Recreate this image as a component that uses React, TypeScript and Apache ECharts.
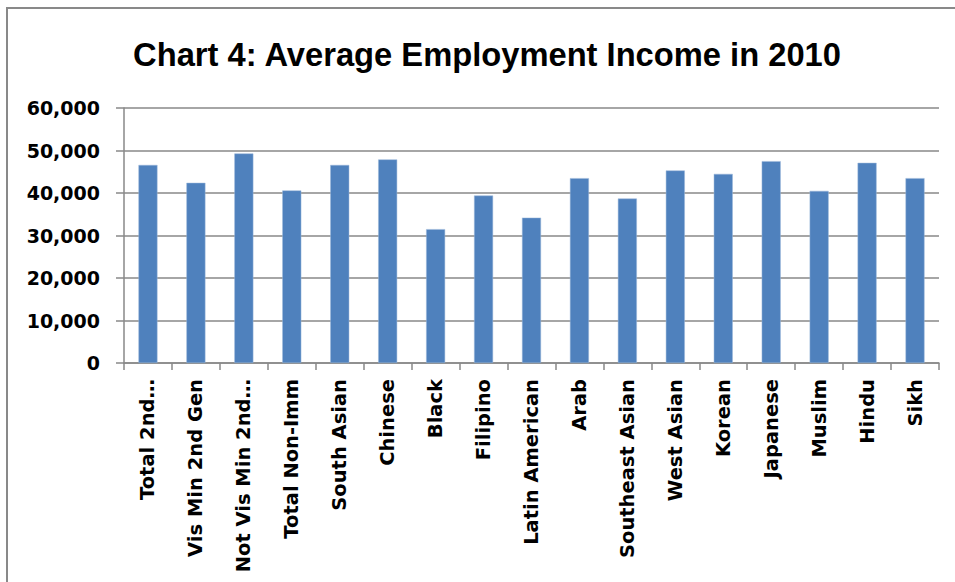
import React, { useEffect, useRef } from "react";
import * as echarts from "echarts";

const titleText = "Chart 4: Average Employment Income in 2010";
const categories = [
  "Total 2nd…",
  "Vis Min 2nd Gen",
  "Not Vis Min 2nd…",
  "Total Non-Imm",
  "South Asian",
  "Chinese",
  "Black",
  "Filipino",
  "Latin American",
  "Arab",
  "Southeast Asian",
  "West Asian",
  "Korean",
  "Japanese",
  "Muslim",
  "Hindu",
  "Sikh",
];
const incomes = [
  46600, 42400, 49300, 40600, 46600, 47900, 31500, 39400, 34200, 43500, 38700,
  45300, 44500, 47500, 40500, 47100, 43500,
];
const yMin = 0;
const yMax = 60000;
const yStep = 10000;

export default function App() {
  const ref = useRef<HTMLDivElement>(null);
  useEffect(() => {
    if (!ref.current) return;
    const chart = echarts.init(ref.current, null, { renderer: "svg" });
    const gray = "#898989";
    chart.setOption({
      animation: false,
      backgroundColor: "#ffffff",
      title: {
        text: titleText,
        left: 482,
        top: 33,
        textAlign: "center",
        textStyle: {
          fontFamily: "Liberation Sans",
          fontWeight: "bold",
          fontSize: 32.7,
          color: "#000000",
        },
      },
      graphic: [
        {
          type: "rect",
          shape: { x: 7, y: 8, width: 970, height: 600 },
          style: { fill: "none", stroke: gray, lineWidth: 2 },
          silent: true,
        },
      ],
      grid: { left: 124, right: 16, top: 108, bottom: 219 },
      xAxis: {
        type: "category",
        data: categories,
        axisLine: { show: true, lineStyle: { color: gray, width: 1.5 } },
        axisTick: { show: true, length: 7, lineStyle: { color: gray, width: 1.5 } },
        axisLabel: {
          rotate: 90,
          interval: 0,
          margin: 16,
          fontFamily: "DejaVu Sans",
          fontWeight: "bold",
          fontSize: 19.5,
          color: "#000000",
        },
      },
      yAxis: {
        type: "value",
        min: yMin,
        max: yMax,
        interval: yStep,
        axisLine: { show: true, lineStyle: { color: gray, width: 1.5 } },
        axisTick: { show: true, length: 8, lineStyle: { color: gray, width: 1.5 } },
        splitLine: { show: true, lineStyle: { color: gray, width: 1.5 } },
        axisLabel: {
          margin: 24,
          fontFamily: "DejaVu Sans",
          fontWeight: "bold",
          fontSize: 19,
          color: "#000000",
          formatter: (v: number) => v.toLocaleString("en-US"),
        },
      },
      series: [
        {
          type: "bar",
          data: incomes,
          barWidth: 19,
          itemStyle: { color: "#4F81BD", borderColor: "#9DB8DB", borderWidth: 0.5 },
        },
      ],
    });
    return () => chart.dispose();
  }, []);
  return (
    <div
      ref={ref}
      style={{ position: "absolute", left: 0, top: 0, width: 955, height: 582 }}
    />
  );
}
